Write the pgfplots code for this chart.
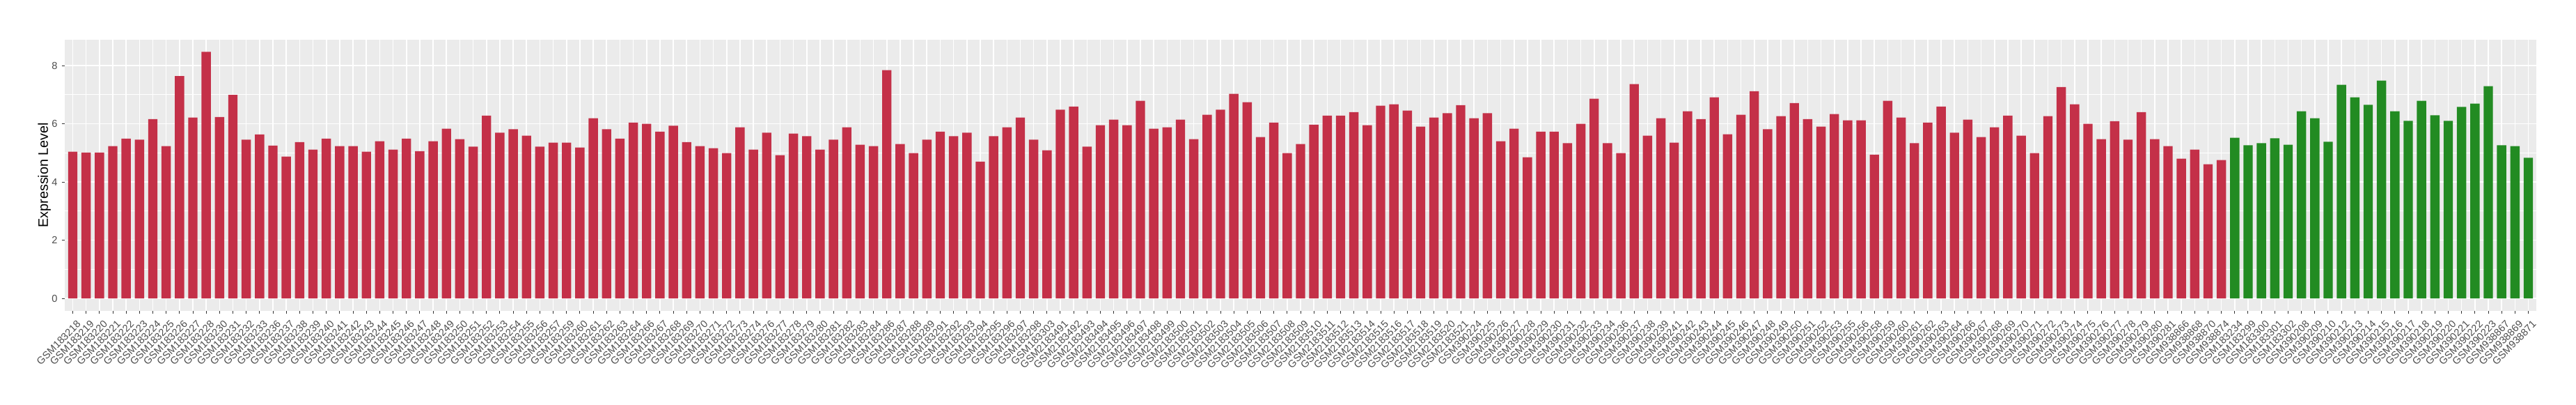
\documentclass[border=0pt]{standalone}
\usepackage{fontspec}
\setmainfont{Liberation Sans}
\usepackage{pgfplots}
\usepackage{pgfplotstable}
\pgfplotsset{compat=1.18}
\definecolor{barred}{HTML}{C43048}
\definecolor{bargreen}{HTML}{228B22}
\definecolor{panelgray}{HTML}{EBEBEB}
\definecolor{tickc}{HTML}{333333}
\definecolor{labc}{HTML}{4D4D4D}

\pgfplotstableread{
idx val
0 5.04
1 5.01
2 5.01
3 5.23
4 5.49
5 5.45
6 6.16
7 5.23
8 7.64
9 6.21
10 8.47
11 6.23
12 6.99
13 5.45
14 5.63
15 5.25
16 4.87
17 5.37
18 5.11
19 5.49
20 5.23
21 5.23
22 5.04
23 5.40
24 5.11
25 5.49
26 5.06
27 5.40
28 5.83
29 5.47
30 5.21
31 6.28
32 5.69
33 5.81
34 5.59
35 5.21
36 5.35
37 5.35
38 5.18
39 6.19
40 5.81
41 5.49
42 6.04
43 6.00
44 5.73
45 5.93
46 5.37
47 5.23
48 5.16
49 4.99
50 5.88
51 5.11
52 5.69
53 4.92
54 5.66
55 5.57
56 5.11
57 5.45
58 5.88
59 5.28
60 5.23
61 7.84
62 5.30
63 4.99
64 5.45
65 5.73
66 5.57
67 5.69
68 4.70
69 5.57
70 5.88
71 6.21
72 5.45
73 5.09
74 6.48
75 6.59
76 5.21
77 5.95
78 6.14
79 5.95
80 6.79
81 5.83
82 5.88
83 6.14
84 5.47
85 6.31
86 6.48
87 7.03
88 6.74
89 5.54
90 6.04
91 4.99
92 5.30
93 5.97
94 6.28
95 6.28
96 6.40
97 5.95
98 6.62
99 6.67
100 6.45
101 5.90
102 6.21
103 6.36
104 6.64
105 6.19
106 6.36
107 5.40
108 5.83
109 4.85
110 5.73
111 5.73
112 5.33
113 6.00
114 6.86
115 5.33
116 4.99
117 7.36
118 5.59
119 6.19
120 5.35
121 6.43
122 6.16
123 6.91
124 5.64
125 6.31
126 7.12
127 5.81
128 6.26
129 6.71
130 6.16
131 5.90
132 6.33
133 6.12
134 6.12
135 4.94
136 6.79
137 6.21
138 5.33
139 6.04
140 6.59
141 5.69
142 6.14
143 5.54
144 5.88
145 6.28
146 5.59
147 4.99
148 6.26
149 7.26
150 6.67
151 6.00
152 5.47
153 6.09
154 5.45
155 6.40
156 5.47
157 5.23
158 4.80
159 5.11
160 4.61
161 4.75
}\reddata

\pgfplotstableread{
idx val
162 5.52
163 5.26
164 5.33
165 5.50
166 5.28
167 6.43
168 6.19
169 5.38
170 7.34
171 6.91
172 6.65
173 7.48
174 6.43
175 6.10
176 6.79
177 6.29
178 6.10
179 6.58
180 6.69
181 7.29
182 5.26
183 5.23
184 4.83
}\greendata

\begin{document}
\begin{tikzpicture}
\path[use as bounding box] (0,0) rectangle (1850pt,290pt);
\begin{axis}[
  at={(46.5pt,67.15pt)}, anchor=south west,
  scale only axis, width=1775pt, height=194.5pt,
  xmin=-0.6, xmax=184.6, ymin=-0.4235, ymax=8.8935,
  ybar, bar width=0.7, bar shift=0pt,
  axis background/.style={fill=panelgray},
  axis line style={draw=none},
  xtick={0,...,184},
  xticklabels={GSM183218,GSM183219,GSM183220,GSM183221,GSM183222,GSM183223,GSM183224,GSM183225,GSM183226,GSM183227,GSM183228,GSM183230,GSM183231,GSM183232,GSM183233,GSM183236,GSM183237,GSM183238,GSM183239,GSM183240,GSM183241,GSM183242,GSM183243,GSM183244,GSM183245,GSM183246,GSM183247,GSM183248,GSM183249,GSM183250,GSM183251,GSM183252,GSM183253,GSM183254,GSM183255,GSM183256,GSM183257,GSM183259,GSM183260,GSM183261,GSM183262,GSM183263,GSM183264,GSM183266,GSM183267,GSM183268,GSM183269,GSM183270,GSM183271,GSM183272,GSM183273,GSM183274,GSM183276,GSM183277,GSM183278,GSM183279,GSM183280,GSM183281,GSM183282,GSM183283,GSM183284,GSM183286,GSM183287,GSM183288,GSM183289,GSM183291,GSM183292,GSM183293,GSM183294,GSM183295,GSM183296,GSM183297,GSM183298,GSM183303,GSM2183491,GSM2183492,GSM2183493,GSM2183494,GSM2183495,GSM2183496,GSM2183497,GSM2183498,GSM2183499,GSM2183500,GSM2183501,GSM2183502,GSM2183503,GSM2183504,GSM2183505,GSM2183506,GSM2183507,GSM2183508,GSM2183509,GSM2183510,GSM2183511,GSM2183512,GSM2183513,GSM2183514,GSM2183515,GSM2183516,GSM2183517,GSM2183518,GSM2183519,GSM2183520,GSM2183521,GSM390224,GSM390225,GSM390226,GSM390227,GSM390228,GSM390229,GSM390230,GSM390231,GSM390232,GSM390233,GSM390234,GSM390236,GSM390237,GSM390238,GSM390239,GSM390241,GSM390242,GSM390243,GSM390244,GSM390245,GSM390246,GSM390247,GSM390248,GSM390249,GSM390250,GSM390251,GSM390252,GSM390253,GSM390255,GSM390256,GSM390258,GSM390259,GSM390260,GSM390261,GSM390262,GSM390263,GSM390264,GSM390266,GSM390267,GSM390268,GSM390269,GSM390270,GSM390271,GSM390272,GSM390273,GSM390274,GSM390275,GSM390276,GSM390277,GSM390278,GSM390279,GSM390280,GSM390281,GSM938866,GSM938868,GSM938870,GSM938874,GSM183234,GSM183299,GSM183300,GSM183301,GSM183302,GSM390208,GSM390209,GSM390210,GSM390212,GSM390213,GSM390214,GSM390215,GSM390216,GSM390217,GSM390218,GSM390219,GSM390220,GSM390221,GSM390222,GSM390223,GSM938867,GSM938869,GSM938871},
  ytick={0,2,4,6,8}, minor ytick={1,3,5,7},
  xmajorgrids, ymajorgrids, yminorgrids,
  major grid style={white, line width=0.8pt},
  minor grid style={white, line width=0.4pt},
  tick align=outside, tick pos=left,
  major tick length=2.2pt, minor tick length=0pt,
  tick style={tickc, line width=0.5pt},
  /pgf/number format/assume math mode=true,
  ticklabel style={font=\fontsize{7.3}{8}\selectfont, text=labc},
  xticklabel style={xshift=2.5pt, yshift=-4.1pt, rotate=45, anchor=north east, inner sep=0pt},
  yticklabel style={xshift=-2.8pt, inner sep=0pt},
  ylabel={Expression Level},
  ylabel style={at={(axis description cs:-0.00552,0.5)}, anchor=south, font=\fontsize{9.9}{11}\selectfont, text=black, inner sep=0pt},
]
\addplot[fill=barred, draw=none] table[x=idx, y=val] {\reddata};
\addplot[fill=bargreen, draw=none] table[x=idx, y=val] {\greendata};
\end{axis}
\end{tikzpicture}
\end{document}
